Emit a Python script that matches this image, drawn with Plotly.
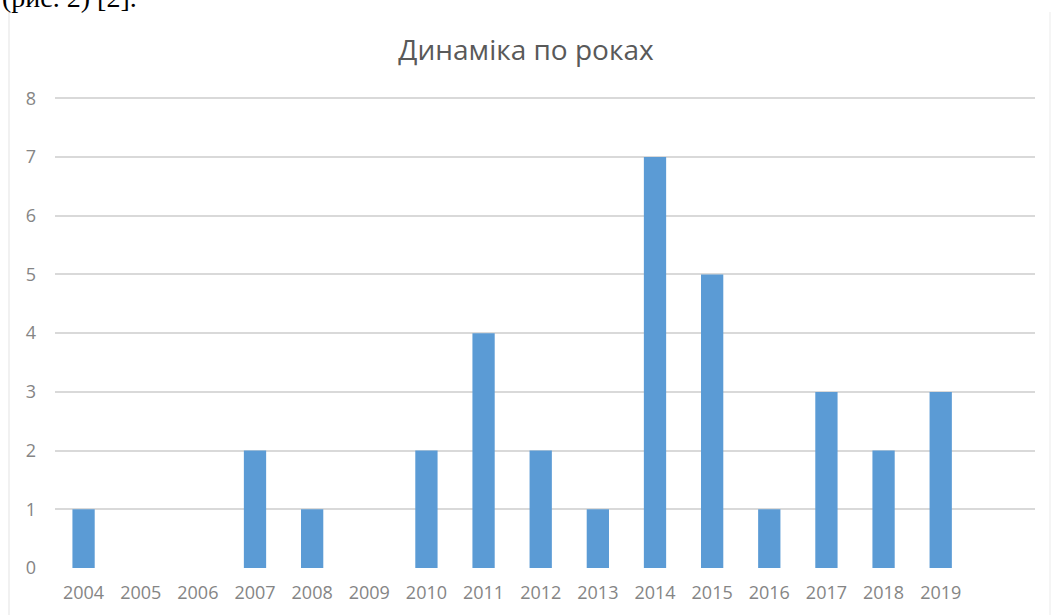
import plotly.graph_objects as go

years = ["2004", "2005", "2006", "2007", "2008", "2009", "2010", "2011",
         "2012", "2013", "2014", "2015", "2016", "2017", "2018", "2019"]
counts = [1, 0, 0, 2, 1, 0, 2, 4, 2, 1, 7, 5, 1, 3, 2, 3]
y_ticks = [0, 1, 2, 3, 4, 5, 6, 7, 8]
title_text = "Динаміка по роках"
caption_text = "(рис. 2) [2]."

W, H = 1053, 615
L, R, T, B = 55, 18, 96, 47
PW, PH = W - L - R, H - T - B

def px_x(x):
    return (x - L) / PW

def px_y(y):
    return (H - B - y) / PH

fig = go.Figure()
fig.add_trace(go.Bar(
    x=years, y=counts,
    marker=dict(color="#5B9BD5", line=dict(width=0)),
    width=0.39,
    hoverinfo="x+y",
))

fig.update_layout(
    width=W, height=H,
    margin=dict(l=L, r=R, t=T, b=B),
    paper_bgcolor="white", plot_bgcolor="white",
    showlegend=False,
    font=dict(family="Open Sans, DejaVu Sans, sans-serif", color="#808080"),
    title=dict(text=title_text, x=px_x(526), xanchor="center", xref="paper",
               y=1 - 50 / H, yanchor="middle", yref="container",
               font=dict(size=28, color="#595959",
                         family="Open Sans, DejaVu Sans, sans-serif")),
    xaxis=dict(type="category", categoryorder="array", categoryarray=years,
               range=[-0.5, 16.65], showgrid=False, zeroline=False,
               showline=False, ticks="", ticklabelstandoff=12,
               tickfont=dict(size=18, color="#858585")),
    yaxis=dict(range=[0, 8.04], tickvals=y_ticks, showgrid=True,
               gridcolor="#d9d9d9", gridwidth=1.6, zeroline=False,
               showline=False, ticks="", ticklabelstandoff=18,
               tickfont=dict(size=18, color="#858585")),
    annotations=[dict(text=caption_text, xref="paper", yref="paper",
                      x=px_x(0), y=px_y(15), xanchor="left", yanchor="bottom",
                      showarrow=False,
                      font=dict(size=28, color="#000000",
                                family="Liberation Serif, Times New Roman, serif"))],
    shapes=[dict(type="line", xref="paper", yref="paper",
                 x0=px_x(9), x1=px_x(9), y0=px_y(H), y1=px_y(12),
                 line=dict(color="#ececec", width=1.5)),
            dict(type="line", xref="paper", yref="paper",
                 x0=px_x(1050), x1=px_x(1050), y0=px_y(H), y1=px_y(12),
                 line=dict(color="#f2f2f2", width=1.5))],
)

fig.write_html("out.html", config={"displayModeBar": False},
               post_script="document.body.style.margin='0';")
